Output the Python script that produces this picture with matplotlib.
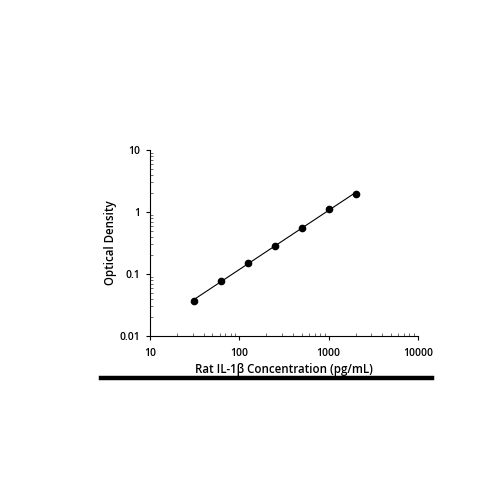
import numpy as np
import matplotlib
matplotlib.use("Agg")
import matplotlib.pyplot as plt
from matplotlib.ticker import LogLocator, FixedLocator, NullFormatter

plt.rcParams['font.family'] = ['Open Sans', 'DejaVu Sans']

# standard curve values
conc = [31.25, 62.5, 125, 250, 500, 1000, 2000]
od = [0.037, 0.078, 0.148, 0.285, 0.56, 1.1, 1.95]

x_ticks = [10, 100, 1000, 10000]
x_tick_labels = ["10", "100", "1000", "10000"]
y_ticks = [0.01, 0.1, 1, 10]
y_tick_labels = ["0.01", "0.1", "1", "10"]

fig = plt.figure(figsize=(5, 5), dpi=100)
ax = fig.add_axes([0.30, 0.328, 0.536, 0.372])

# fitted line in log-log space
coef = np.polyfit(np.log10(conc), np.log10(od), 1)
xf = np.array([conc[0], conc[-1]])
ax.plot(xf, 10 ** np.polyval(coef, np.log10(xf)), color="black", lw=0.8)
ax.plot(conc, od, "o", color="black", ms=4.5)

ax.set_xscale("log")
ax.set_yscale("log")
ax.set_xlim(10, 10000)
ax.set_ylim(0.01, 10)

ax.xaxis.set_major_locator(FixedLocator(x_ticks))
ax.set_xticklabels(x_tick_labels)
ax.yaxis.set_major_locator(FixedLocator(y_ticks))
ax.set_yticklabels(y_tick_labels)
ax.xaxis.set_minor_locator(LogLocator(base=10, subs=np.arange(2, 10)))
ax.yaxis.set_minor_locator(LogLocator(base=10, subs=np.arange(2, 10)))
ax.xaxis.set_minor_formatter(NullFormatter())
ax.yaxis.set_minor_formatter(NullFormatter())

ax.tick_params(which="major", direction="out", length=3, width=0.8, labelsize=7.5)
ax.tick_params(axis="x", which="major", pad=6)
ax.tick_params(axis="y", which="major", pad=4)
ax.tick_params(which="minor", direction="in", length=2, width=0.6, colors="#555555")
for lab in ax.get_xticklabels() + ax.get_yticklabels():
    lab.set_fontweight("semibold")

ax.spines["top"].set_visible(False)
ax.spines["right"].set_visible(False)
ax.spines["left"].set_linewidth(0.8)
ax.spines["bottom"].set_linewidth(0.8)

ax.set_ylabel("Optical Density", fontsize=8.3, fontweight="semibold", va="center")
ax.yaxis.set_label_coords(-0.148, 0.5)
ax.set_xlabel("Rat IL-1β Concentration (pg/mL)", fontsize=8.3, fontweight="semibold", va="center")
ax.xaxis.set_label_coords(0.5, -0.18)

# thick rule under the x label
fig.add_artist(plt.Line2D([0.202, 0.864], [0.245, 0.245], color="black", lw=3.2, transform=fig.transFigure))

fig.savefig("out.png", dpi=100, facecolor="white")
